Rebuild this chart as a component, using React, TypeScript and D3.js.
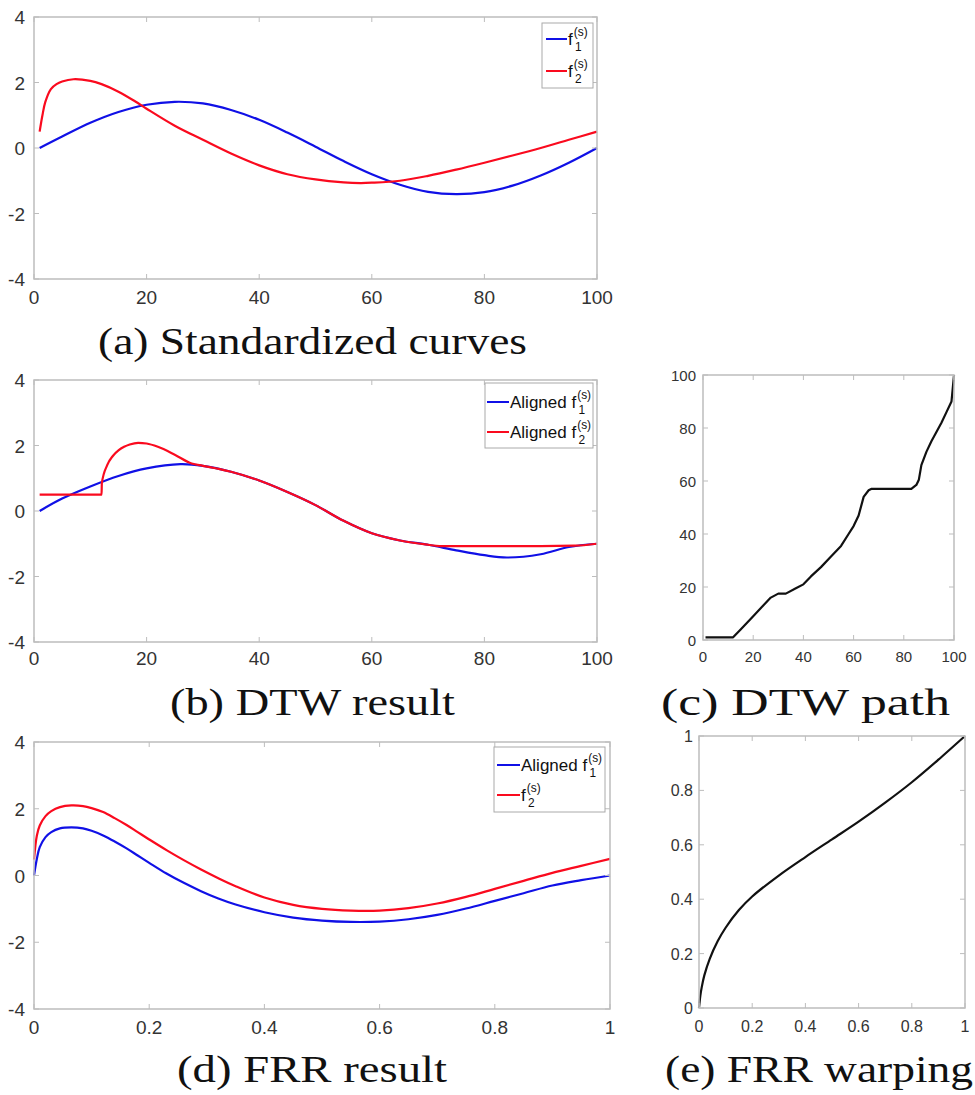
import React from 'react';
import * as d3 from 'd3';

// ---------- tick values ----------
const ticksPM4 = [-4, -2, 0, 2, 4];
const ticks0to100 = [0, 20, 40, 60, 80, 100];
const ticks0to1 = [0, 0.2, 0.4, 0.6, 0.8, 1];

// ---------- (a) Standardized curves ----------
const aX1 = [1, 5, 10, 15, 20, 25, 30, 35, 40, 45, 50, 55, 60, 65, 70, 75, 80, 85, 90, 95, 100];
const aF1 = [0, 0.35, 0.77, 1.1, 1.32, 1.41, 1.36, 1.16, 0.86, 0.47, 0.04, -0.4, -0.8, -1.12, -1.34, -1.41, -1.35, -1.15, -0.84, -0.45, 0];
const aX2 = [1, 1.5, 2, 3, 4, 5, 7, 10, 12, 15, 18, 20, 25, 30, 35, 40, 45, 50, 55, 58, 60, 65, 70, 75, 80, 85, 90, 95, 100];
const aF2 = [0.5, 1.0, 1.4, 1.8, 1.95, 2.03, 2.1, 2.05, 1.95, 1.72, 1.42, 1.2, 0.68, 0.25, -0.17, -0.53, -0.8, -0.96, -1.05, -1.07, -1.06, -1.0, -0.85, -0.66, -0.45, -0.23, 0.0, 0.25, 0.5];

// ---------- (b) DTW result ----------
const bX1 = [1, 5, 10, 15, 20, 26, 30, 35, 40, 45, 50, 55, 60, 65, 70, 75, 80, 84, 90, 95, 100];
const bF1 = [0, 0.38, 0.75, 1.07, 1.3, 1.43, 1.38, 1.2, 0.93, 0.58, 0.18, -0.3, -0.68, -0.9, -1.03, -1.2, -1.35, -1.42, -1.32, -1.1, -1.0];
const bX2 = [1, 12, 12.05, 13, 14, 15, 16, 17, 18.5, 20, 22, 25, 28, 30, 33, 35, 40, 45, 50, 55, 60, 65, 70, 72, 80, 90, 96, 100];
const bF2 = [0.5, 0.5, 0.85, 1.4, 1.68, 1.85, 1.96, 2.03, 2.08, 2.06, 1.96, 1.72, 1.45, 1.38, 1.28, 1.2, 0.93, 0.58, 0.18, -0.3, -0.68, -0.9, -1.03, -1.07, -1.07, -1.07, -1.06, -1.0];

// ---------- (c) DTW path ----------
const cX = [1, 12, 15, 20, 24, 27, 30, 33, 37, 40, 43, 47, 51, 55, 58, 60, 62, 64, 66, 67, 83, 85, 86, 87, 89, 91, 93, 95, 97, 99, 100];
const cY = [1, 1, 4, 9, 13, 16, 17.5, 17.5, 19.5, 21, 24, 27.5, 31.5, 35.5, 40, 43, 47, 54, 56.5, 57, 57, 58.5, 60.5, 66, 71, 75, 78.5, 82, 86, 90, 100];

// ---------- (d) FRR result ----------
const dX = [0, 0.005, 0.01, 0.02, 0.03, 0.045, 0.065, 0.085, 0.1, 0.12, 0.14, 0.16, 0.18, 0.2, 0.23, 0.26, 0.29, 0.32, 0.35, 0.4, 0.45, 0.5, 0.55, 0.6, 0.65, 0.7, 0.75, 0.8, 0.85, 0.9, 0.95, 1];
const dF1 = [0, 0.5, 0.85, 1.15, 1.3, 1.41, 1.44, 1.41, 1.34, 1.2, 1.02, 0.82, 0.6, 0.38, 0.06, -0.22, -0.47, -0.69, -0.87, -1.1, -1.26, -1.35, -1.39, -1.38, -1.31, -1.18, -0.99, -0.76, -0.53, -0.3, -0.14, 0];
const dF2 = [0.48, 1.2, 1.5, 1.78, 1.93, 2.05, 2.1, 2.08, 2.02, 1.9, 1.72, 1.52, 1.3, 1.08, 0.76, 0.46, 0.18, -0.08, -0.32, -0.66, -0.88, -1.0, -1.05, -1.05, -0.98, -0.84, -0.64, -0.4, -0.16, 0.08, 0.29, 0.5];

// ---------- (e) FRR warping ----------
const eX = [0, 0.005, 0.01, 0.02, 0.04, 0.07, 0.1, 0.15, 0.2, 0.3, 0.4, 0.5, 0.6, 0.7, 0.8, 0.9, 1];
const eY = [0, 0.045, 0.075, 0.12, 0.18, 0.245, 0.295, 0.36, 0.41, 0.487, 0.555, 0.62, 0.685, 0.755, 0.83, 0.913, 1];

const BLUE = '#1010e6';
const RED = '#fa0a1e';
const BLACK = '#111';
const AXIS = '#bdbdbd';
const TICKTXT = '#333';
const SANS = '"Liberation Sans", Arial, Helvetica, sans-serif';
const SERIF = '"Liberation Serif", "Times New Roman", serif';

type CurveKind = 'cr' | 'mono' | 'linear';
type Series = { xs: number[]; ys: number[]; color: string; curve: CurveKind };
type LegendItem = { color: string; prefix: string; sub: string };
type Box = { x0: number; x1: number; y0: number; y1: number };

function fmt(v: number) {
  return String(+v.toFixed(6));
}

function curveOf(k: CurveKind) {
  if (k === 'linear') return d3.curveLinear;
  if (k === 'mono') return d3.curveMonotoneX;
  return d3.curveCatmullRom.alpha(0.5);
}

function Panel(props: {
  box: Box;
  xDomain: [number, number];
  yDomain: [number, number];
  xTicks: number[];
  yTicks: number[];
  series: Series[];
  fs: number;
  xLabelDy: number;
  yLabelGap: number;
  legend?: { box: Box; items: LegendItem[]; lineX: [number, number]; rowY: number[]; fs: number };
}) {
  const { box, xDomain, yDomain, xTicks, yTicks, series, fs, xLabelDy, yLabelGap, legend } = props;
  const x = d3.scaleLinear().domain(xDomain).range([box.x0, box.x1]);
  const y = d3.scaleLinear().domain(yDomain).range([box.y1, box.y0]);
  const tl = 5;
  return (
    <g>
      <rect x={box.x0} y={box.y0} width={box.x1 - box.x0} height={box.y1 - box.y0} fill="#fff" stroke="none" />
      {series.map((s, i) => {
        const pts = s.xs.map((xv, k) => [xv, s.ys[k]] as [number, number]);
        const line = d3
          .line<[number, number]>()
          .x((d) => x(d[0]))
          .y((d) => y(d[1]))
          .curve(curveOf(s.curve));
        return <path key={i} d={line(pts) || ''} fill="none" stroke={s.color} strokeWidth={2.2} strokeLinejoin="round" />;
      })}
      <rect x={box.x0} y={box.y0} width={box.x1 - box.x0} height={box.y1 - box.y0} fill="none" stroke={AXIS} strokeWidth={1.5} />
      {xTicks.map((t, i) => (
        <g key={'xt' + i}>
          <line x1={x(t)} x2={x(t)} y1={box.y1} y2={box.y1 - tl} stroke={AXIS} strokeWidth={1} />
          <line x1={x(t)} x2={x(t)} y1={box.y0} y2={box.y0 + tl} stroke={AXIS} strokeWidth={1} />
          <text x={x(t)} y={box.y1 + xLabelDy} textAnchor="middle" fontFamily={SANS} fontSize={fs} fill={TICKTXT}>
            {fmt(t)}
          </text>
        </g>
      ))}
      {yTicks.map((t, i) => (
        <g key={'yt' + i}>
          <line x1={box.x0} x2={box.x0 + tl} y1={y(t)} y2={y(t)} stroke={AXIS} strokeWidth={1} />
          <line x1={box.x1} x2={box.x1 - tl} y1={y(t)} y2={y(t)} stroke={AXIS} strokeWidth={1} />
          <text x={box.x0 - yLabelGap} y={y(t) + fs * 0.38} textAnchor="end" fontFamily={SANS} fontSize={fs} fill={TICKTXT}>
            {fmt(t)}
          </text>
        </g>
      ))}
      {legend && (
        <g>
          <rect
            x={legend.box.x0}
            y={legend.box.y0}
            width={legend.box.x1 - legend.box.x0}
            height={legend.box.y1 - legend.box.y0}
            fill="#fff"
            stroke="#aaa"
            strokeWidth={1}
          />
          {legend.items.map((it, i) => (
            <g key={'lg' + i}>
              <line x1={legend.lineX[0]} x2={legend.lineX[1]} y1={legend.rowY[i]} y2={legend.rowY[i]} stroke={it.color} strokeWidth={2} />
              <text x={legend.lineX[1] + 1} y={legend.rowY[i] + legend.fs * 0.33} fontFamily={SANS} fontSize={legend.fs} fill="#111">
                <tspan>{it.prefix + 'f'}</tspan>
                <tspan dx={1} dy={-legend.fs * 0.5} fontSize={legend.fs * 0.7}>(s)</tspan>
                <tspan dx={-legend.fs * 0.7 * 1.05} dy={legend.fs * 0.9} fontSize={legend.fs * 0.7}>{it.sub}</tspan>
              </text>
            </g>
          ))}
        </g>
      )}
    </g>
  );
}

function Caption(props: { x0: number; x1: number; y: number; text: string }) {
  const { x0, x1, y, text } = props;
  return (
    <text x={x0} y={y} fontFamily={SERIF} fontSize={38} fill="#111" textLength={x1 - x0} lengthAdjust="spacingAndGlyphs">
      {text}
    </text>
  );
}

export default function App() {
  return (
    <svg width={975} height={1095} style={{ position: 'absolute', left: 0, top: 0, background: '#fff' }}>
      <rect x={0} y={0} width={975} height={1095} fill="#fff" />
      {/* (a) */}
      <Panel
        box={{ x0: 34, x1: 597, y0: 17, y1: 279 }}
        xDomain={[0, 100]}
        yDomain={[-4, 4]}
        xTicks={ticks0to100}
        yTicks={ticksPM4}
        fs={19}
        xLabelDy={25}
        yLabelGap={9}
        series={[
          { xs: aX1, ys: aF1, color: BLUE, curve: 'cr' },
          { xs: aX2, ys: aF2, color: RED, curve: 'cr' },
        ]}
        legend={{
          box: { x0: 542, x1: 593, y0: 23, y1: 88 },
          items: [
            { color: BLUE, prefix: '', sub: '1' },
            { color: RED, prefix: '', sub: '2' },
          ],
          lineX: [546, 567],
          rowY: [39, 71],
          fs: 17,
        }}
      />
      <Caption x0={98} x1={527} y={354} text="(a) Standardized curves" />

      {/* (b) */}
      <Panel
        box={{ x0: 34, x1: 597, y0: 380, y1: 642 }}
        xDomain={[0, 100]}
        yDomain={[-4, 4]}
        xTicks={ticks0to100}
        yTicks={ticksPM4}
        fs={19}
        xLabelDy={23}
        yLabelGap={9}
        series={[
          { xs: bX1, ys: bF1, color: BLUE, curve: 'cr' },
          { xs: bX2, ys: bF2, color: RED, curve: 'mono' },
        ]}
        legend={{
          box: { x0: 485, x1: 593, y0: 383, y1: 448 },
          items: [
            { color: BLUE, prefix: 'Aligned ', sub: '1' },
            { color: RED, prefix: 'Aligned ', sub: '2' },
          ],
          lineX: [487, 509],
          rowY: [402, 432],
          fs: 17,
        }}
      />
      <Caption x0={170} x1={455} y={715} text="(b) DTW result" />

      {/* (c) */}
      <Panel
        box={{ x0: 703, x1: 954, y0: 375, y1: 640 }}
        xDomain={[0, 100]}
        yDomain={[0, 100]}
        xTicks={ticks0to100}
        yTicks={ticks0to100}
        fs={15}
        xLabelDy={22}
        yLabelGap={7}
        series={[{ xs: cX, ys: cY, color: BLACK, curve: 'linear' }]}
      />
      <Caption x0={661} x1={950} y={715} text="(c) DTW path" />

      {/* (d) */}
      <Panel
        box={{ x0: 34, x1: 610, y0: 742, y1: 1009 }}
        xDomain={[0, 1]}
        yDomain={[-4, 4]}
        xTicks={ticks0to1}
        yTicks={ticksPM4}
        fs={19}
        xLabelDy={25}
        yLabelGap={9}
        series={[
          { xs: dX, ys: dF1, color: BLUE, curve: 'cr' },
          { xs: dX, ys: dF2, color: RED, curve: 'cr' },
        ]}
        legend={{
          box: { x0: 494, x1: 605, y0: 747, y1: 812 },
          items: [
            { color: BLUE, prefix: 'Aligned ', sub: '1' },
            { color: RED, prefix: '', sub: '2' },
          ],
          lineX: [497, 520],
          rowY: [765, 795],
          fs: 17,
        }}
      />
      <Caption x0={177} x1={447} y={1082} text="(d) FRR result" />

      {/* (e) */}
      <Panel
        box={{ x0: 699, x1: 965, y0: 736, y1: 1008 }}
        xDomain={[0, 1]}
        yDomain={[0, 1]}
        xTicks={ticks0to1}
        yTicks={ticks0to1}
        fs={16}
        xLabelDy={24}
        yLabelGap={6}
        series={[{ xs: eX, ys: eY, color: BLACK, curve: 'cr' }]}
      />
      <Caption x0={665} x1={973} y={1082} text="(e) FRR warping" />
    </svg>
  );
}
